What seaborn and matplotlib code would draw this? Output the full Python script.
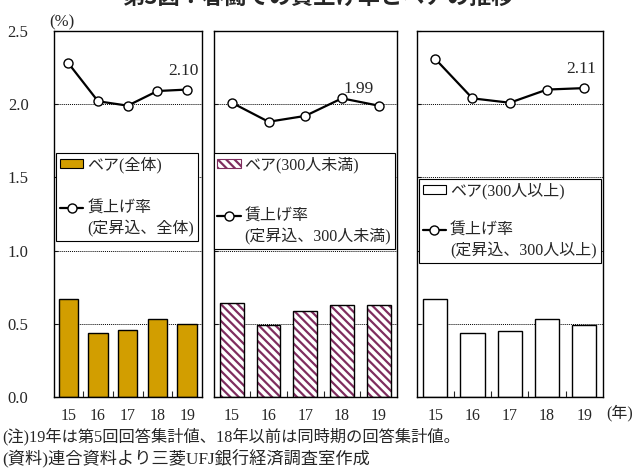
import matplotlib
matplotlib.use('Agg')
import matplotlib.pyplot as plt
import matplotlib.patches as mpatches
from matplotlib.lines import Line2D
import seaborn as sns

# Data {{{
years = ['15', '16', '17', '18', '19']

bea_all = [0.67, 0.44, 0.46, 0.53, 0.50]
rate_all = [2.28, 2.02, 1.99, 2.09, 2.10]

bea_small = [0.64, 0.49, 0.59, 0.63, 0.63]
rate_small = [2.01, 1.88, 1.92, 2.04, 1.99]

bea_large = [0.67, 0.44, 0.45, 0.53, 0.49]
rate_large = [2.31, 2.04, 2.01, 2.10, 2.11]

yticks = [0.0, 0.5, 1.0, 1.5, 2.0, 2.5]
gridlines = [0.5, 1.0, 1.5, 2.0]

bea_labels = ['ベア(全体)', 'ベア(300人未満)', 'ベア(300人以上)']
rate_labels = ['(定昇込、全体)', '(定昇込、300人未満)', '(定昇込、300人以上)']
title = '第3図：春闘での賃上げ率とベアの推移'
note1 = '(注)19年は第5回回答集計値、18年以前は同時期の回答集計値。'
note2 = '(資料)連合資料より三菱UFJ銀行経済調査室作成'
# }}}

sns.set_style('ticks')
plt.rcParams['font.family'] = ['Liberation Serif', 'Noto Sans CJK JP']
plt.rcParams['hatch.linewidth'] = 1.6

gold = '#D29E00'
purple = '#7F2D5F'
hatch = '\\\\\\\\'

W, H = 635, 468
fig = plt.figure(figsize=(W / 100, H / 100), dpi=100)


def px_axes(x0, x1, y0=31, y1=397):
    return fig.add_axes([x0 / W, 1 - y1 / H, (x1 - x0) / W, (y1 - y0) / H])


ax1 = px_axes(53.5, 202)
ax2 = px_axes(213.5, 397)
ax3 = px_axes(416.5, 603)

# axes, bars, rate, bar style, legend anchor, gap size, value label offset
panels = [
    (ax1, bea_all, rate_all, 'gold', (0.017, 0.667), 17.5, (-4, 19)),
    (ax2, bea_small, rate_small, 'hatch', (0.0, 0.667), 22, (-20, 17)),
    (ax3, bea_large, rate_large, 'white', (0.013, 0.596), 13.5, (-3, 19)),
]

for i, (ax, bea, rate, style, legpos, gap, lbloff) in enumerate(panels):
    ax.set_facecolor('white')
    if style == 'gold':
        sns.barplot(x=years, y=bea, ax=ax, color=gold, saturation=1,
                    edgecolor='black', linewidth=1, width=0.65, zorder=2)
        bar_handle = mpatches.Patch(facecolor=gold, edgecolor='black', linewidth=0.8)
    elif style == 'hatch':
        # hatch pass in purple, then a black outline pass on top
        sns.barplot(x=years, y=bea, ax=ax, color='white', saturation=1,
                    edgecolor=purple, linewidth=0, width=0.65, hatch=hatch, zorder=2)
        sns.barplot(x=years, y=bea, ax=ax, color='black', fill=False, saturation=1,
                    linewidth=1, width=0.65, zorder=3)
        bar_handle = mpatches.Patch(facecolor='white', edgecolor=purple, hatch=hatch, linewidth=0.8)
    else:
        sns.barplot(x=years, y=bea, ax=ax, color='white', saturation=1,
                    edgecolor='black', linewidth=1, width=0.65, zorder=2)
        bar_handle = mpatches.Patch(facecolor='white', edgecolor='black', linewidth=0.8)

    sns.pointplot(x=years, y=rate, ax=ax, color='black', errorbar=None,
                  markers='o', linewidth=1.6, markersize=6.5,
                  markerfacecolor='white', markeredgecolor='black',
                  markeredgewidth=1, zorder=5)

    ax.set_xlim(-0.5, len(years) - 0.5)
    ax.set_ylim(yticks[0], yticks[-1])
    ax.set_xlabel('')
    ax.set_ylabel('')

    for g in gridlines:
        ax.axhline(g, color='black', linestyle=(0, (1, 1)), linewidth=0.7, zorder=1)

    for sp in ax.spines.values():
        sp.set_visible(True)
        sp.set_color('black')
        sp.set_linewidth(1)

    ax.set_yticks(yticks)
    if i == 0:
        ax.set_yticklabels(['{:.1f}'.format(v) for v in yticks], fontsize=12)
    else:
        ax.set_yticklabels([])
    ax.tick_params(axis='y', direction='in', length=3, width=0.8, pad=18)
    ax.tick_params(axis='x', which='major', length=0, pad=8, labelsize=11.5)
    ax.set_xticks([k + 0.5 for k in range(len(years) - 1)], minor=True)
    ax.tick_params(axis='x', which='minor', direction='in', length=4, width=0.8)

    # last value label
    ax.annotate('{:.2f}'.format(rate[-1]), xy=(len(years) - 1, rate[-1]),
                xytext=lbloff, textcoords='offset pixels',
                ha='center', va='center', fontsize=12.5, zorder=6)

    # legend (blank row gives the gap between the two entries)
    line_handle = Line2D([], [], color='black', linewidth=1.6, marker='o',
                         markersize=6.5, markerfacecolor='white',
                         markeredgecolor='black', markeredgewidth=1)
    blank = Line2D([], [], linestyle='none')
    leg = ax.legend([bar_handle, blank, line_handle, blank],
                    [bea_labels[i], ' ', '賃上げ率', rate_labels[i]],
                    loc='upper left', bbox_to_anchor=legpos, borderaxespad=0,
                    fontsize=11.5, frameon=True, fancybox=False, framealpha=1,
                    edgecolor='black', handlelength=1.45, handleheight=0.5,
                    handletextpad=0.25, labelspacing=0.2, borderpad=0.25)
    leg.get_texts()[1].set_fontsize(gap)
    leg.get_frame().set_linewidth(0.8)
    leg.set_zorder(10)

fig.text(62 / W, 1 - 22 / H, '(%)', ha='center', va='center', fontsize=12)
fig.text(620 / W, 1 - 413 / H, '(年)', ha='center', va='center', fontsize=11.5)
fig.text(318 / W, 1 - 9 / H, title, ha='center', va='bottom', fontsize=16,
         fontweight='bold', family=['Noto Sans CJK JP'])
fig.text(2 / W, 1 - 437 / H, note1, ha='left', va='center', fontsize=11.7)
fig.text(2 / W, 1 - 458 / H, note2, ha='left', va='center', fontsize=12.4)

fig.savefig('out.png', dpi=100, facecolor='white')
